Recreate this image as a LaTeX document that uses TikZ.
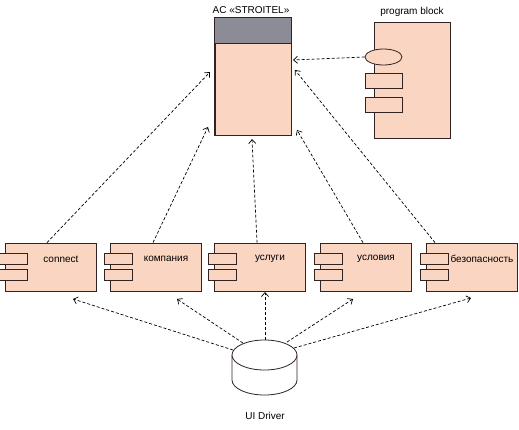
\documentclass[tikz,border=0pt]{standalone}
\usepackage{fontspec}
\setmainfont{Liberation Sans}
\usetikzlibrary{arrows.meta,shapes.geometric}
\definecolor{boxfill}{RGB}{250,214,194}
\definecolor{headfill}{RGB}{140,140,150}
\definecolor{edge}{RGB}{50,35,35}
\begin{document}
\begin{tikzpicture}[x=1pt,y=-1pt,
  comp/.style={draw=edge,fill=boxfill,line width=0.8pt,minimum width=91pt,minimum height=48pt,inner sep=0pt},
  tab/.style={draw=edge,fill=boxfill,line width=0.8pt},
  lbl/.style={font=\fontsize{10}{12}\selectfont,inner sep=0pt},
  dep/.style={draw=black,line width=0.7pt,dash pattern=on 3pt off 2pt,-{Straight Barb[length=4pt,width=7pt]}}]
\useasboundingbox (0,0) rectangle (519,429);
% AC box
\node[draw=edge,fill=boxfill,line width=0.8pt,minimum width=76pt,minimum height=117pt,inner sep=0pt] (ac) at (253,76.5) {};
\fill[headfill] (ac.north west) rectangle ([yshift=-26pt]ac.north east);
\draw[edge,line width=0.8pt] (ac.north west) rectangle (ac.south east);
\draw[edge,line width=0.8pt] ([yshift=-26pt]ac.north west) -- ([yshift=-26pt]ac.north east);
\node[lbl] (actitle) at (251,10) {AC «STROITEL»};
% program block
\node[draw=edge,fill=boxfill,line width=0.8pt,minimum width=76pt,minimum height=116pt,inner sep=0pt] (pb) at (412,80) {};
\node[lbl] (pbtitle) at (412,12) {program block};
\node[draw=edge,fill=boxfill,line width=0.8pt,ellipse,minimum width=37pt,minimum height=16pt,inner sep=0pt] (pbell) at (383.5,57) {};
\draw[tab] (365,73) rectangle (402,88);
\draw[tab] (365,97) rectangle (402,112);
% components
\foreach \n/\L/\t in {c1/5/connect,c2/110/компания,c3/214/услуги,c4/320/условия,c5/426/безопасность}{
  \node[comp] (\n) at (\L+45.5,267) {};
  \draw[tab] (\L-6,253) rectangle (\L+22,264);
  \draw[tab] (\L-6,269) rectangle (\L+22,280);
  \node[lbl] (\n t) at (\L+56,259) {\t};
}
% cylinder
\node[minimum width=65pt,minimum height=55pt,inner sep=0pt] (drv) at (264.5,367.5) {};
\draw[edge,line width=0.8pt,fill=white] (232,355) -- (232,380) arc[start angle=180,end angle=360,x radius=32.5pt,y radius=15pt] -- (297,355);
\draw[edge,line width=0.8pt,fill=white] (264.5,355) ellipse[x radius=32.5pt,y radius=15pt];
\node[lbl] (drvlbl) at (265,416) {UI Driver};
% coordinates
\coordinate (d1) at (233,350);
\coordinate (d2) at (243,343);
\coordinate (d3) at (265,340);
\coordinate (d4) at (287,342);
\coordinate (d5) at (294,348);
\coordinate (t1) at (73,299);
\coordinate (t2) at (177,299);
\coordinate (t3) at (265,292);
\coordinate (t4) at (353,299);
\coordinate (t5) at (471,298);
\draw[dep] (d1) -- (t1);
\draw[dep] (d2) -- (t2);
\draw[dep] (d3) -- (t3);
\draw[dep] (d4) -- (t4);
\draw[dep] (d5) -- (t5);
\coordinate (a1) at (210,72);
\coordinate (a2) at (208,127);
\coordinate (a3) at (252,139);
\coordinate (a4) at (297,130);
\coordinate (a5) at (295,70);
\coordinate (a6) at (293,60);
\draw[dep] (c1.north -| 47,0) -- (a1);
\draw[dep] (c2.north -| 153,0) -- (a2);
\draw[dep] (c3.north -| 257,0) -- (a3);
\draw[dep] (c4.north -| 363,0) -- (a4);
\draw[dep] (c5.north -| 435,0) -- (a5);
\draw[dep] (pbell.west) -- (a6);
\end{tikzpicture}
\end{document}
